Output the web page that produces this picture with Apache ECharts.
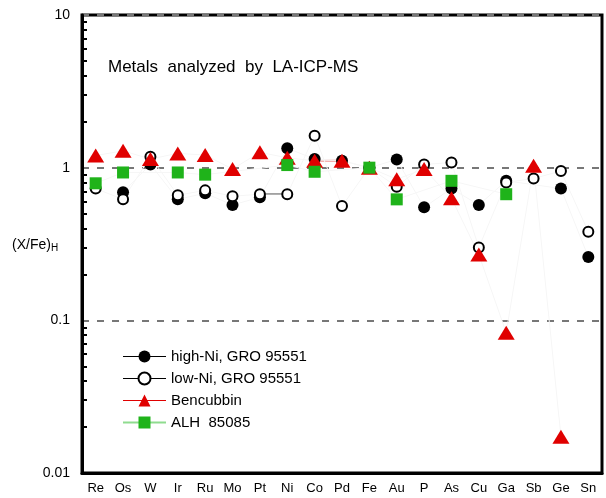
<!DOCTYPE html>
<html>
<head>
<meta charset="utf-8">
<script src="https://cdn.jsdelivr.net/npm/echarts@6/dist/echarts.min.js"></script>
<style>
  html, body { margin: 0; padding: 0; background: #fff; }
  #chart { width: 606px; height: 498px; }
</style>
</head>
<body>
<div id="chart"></div>
<script>
// elements, in the order of the x axis
let elements = ["Re", "Os", "W", "Ir", "Ru", "Mo", "Pt", "Ni", "Co", "Pd", "Fe", "Au", "P", "As", "Cu", "Ga", "Sb", "Ge", "Sn"];

// (X/Fe)H values
let highNi =    [null, 0.69, 1.05, 0.62, 0.68, 0.57, 0.64, 1.34, 1.14, 1.11, 1.0, 1.13, 0.55, 0.73, 0.57, 0.82, null, 0.73, 0.26];
let lowNi =     [0.73, 0.62, 1.18, 0.66, 0.71, 0.65, 0.67, 0.67, 1.62, 0.56, 1.0, 0.75, 1.05, 1.08, 0.30, 0.80, 0.85, 0.95, 0.38];
let bencubbin = [1.20, 1.29, 1.14, 1.24, 1.21, 0.98, 1.26, 1.16, 1.11, 1.11, 1.0, 0.84, 0.98, 0.63, 0.27, 0.083, 1.03, 0.0173, null];
let alh85085 =  [0.79, 0.93, null, 0.93, 0.90, null, null, 1.04, 0.94, null, 1.0, 0.62, null, 0.82, null, 0.67, null, null, null];

// the two segments that are drawn solid in the original
let lowNiLink =     [null, null, null, null, null, null, 0.67, 0.67, null, null, null, null, null, null, null, null, null, null, null];
let bencubbinLink = [null, null, null, null, null, null, null, null, 1.11, 1.11, null, null, null, null, null, null, null, null, null];

let yTicks = [0.01, 0.1, 1, 10];

// minor ticks 2..9 in every decade, in log10 space
let minorTicks = [];
[-2, -1, 0].forEach(function (d) {
  for (let k = 2; k <= 9; k++) minorTicks.push(d + Math.log10(k));
});

const RED = "#e00000";
const GREEN = "#1fb31a";
const FONT = "Liberation Sans";
const faint = { color: "#f6f6f6", width: 1 };

let dom = echarts.init(document.getElementById("chart"));
dom.setOption({
  animation: false,
  textStyle: { fontFamily: FONT, color: "#000" },
  title: [
    {
      text: "Metals  analyzed  by  LA-ICP-MS",
      left: 103,
      top: 54,
      textStyle: { fontFamily: FONT, fontSize: 17, fontWeight: "normal", color: "#000" }
    },
    {
      text: "(X/Fe){s|H}",
      left: 7,
      top: 232,
      textStyle: {
        fontFamily: FONT, fontSize: 14, fontWeight: "normal", color: "#000",
        rich: { s: { fontFamily: FONT, fontSize: 10, verticalAlign: "bottom", padding: [6, 0, 0, 0] } }
      }
    }
  ],
  legend: {
    orient: "vertical",
    left: 117,
    top: 344,
    itemWidth: 43,
    itemHeight: 15,
    itemGap: 7,
    textStyle: { fontFamily: FONT, fontSize: 15, color: "#000" },
    data: [
      { name: "high-Ni, GRO 95551", lineStyle: { color: "#000", width: 1 } },
      { name: "low-Ni, GRO 95551", lineStyle: { color: "#000", width: 1 } },
      { name: "Bencubbin", lineStyle: { color: RED, width: 1 } },
      { name: "ALH  85085", lineStyle: { color: "#8fdc8f", width: 2 } }
    ]
  },
  grid: {
    left: 82, right: 4, top: 15, bottom: 25,
    show: true, borderColor: "#000", borderWidth: 3
  },
  xAxis: {
    type: "category",
    data: elements,
    boundaryGap: true,
    axisLine: { onZero: false, lineStyle: { color: "#000", width: 3 } },
    axisTick: { inside: true, length: 6, lineStyle: { color: "#000", width: 2 } },
    axisLabel: { fontFamily: FONT, fontSize: 13, color: "#000", margin: 9, interval: 0 },
    splitLine: { show: false }
  },
  yAxis: [
    {
      type: "log",
      logBase: 10,
      min: 0.01,
      max: 10,
      axisLine: { show: true, lineStyle: { color: "#000", width: 3 } },
      axisTick: { length: 8, lineStyle: { color: "#000", width: 2 } },
      axisLabel: {
        fontFamily: FONT, fontSize: 14, color: "#000", margin: 12,
        formatter: function (v) {
          for (let t of yTicks) if (Math.abs(v - t) / t < 1e-6) return String(t);
          return "";
        }
      },
      splitLine: { show: true, lineStyle: { color: "#777777", width: 2, type: [7, 8] } }
    },
    {
      type: "value",
      min: -2,
      max: 1,
      position: "left",
      axisLine: { show: false },
      axisLabel: { show: false },
      splitLine: { show: false },
      axisTick: {
        show: true, inside: true, length: 5,
        customValues: minorTicks,
        lineStyle: { color: "#000", width: 2 }
      }
    }
  ],
  series: [
    {
      name: "high-Ni, GRO 95551",
      type: "line",
      data: highNi,
      connectNulls: true,
      symbol: "circle",
      symbolSize: 12,
      itemStyle: { color: "#000" },
      lineStyle: faint
    },
    {
      name: "low-Ni, GRO 95551",
      type: "line",
      data: lowNi,
      connectNulls: true,
      symbol: "emptyCircle",
      symbolSize: 10,
      itemStyle: { color: "#000", borderWidth: 2.5 },
      lineStyle: faint
    },
    {
      name: "Bencubbin",
      type: "line",
      data: bencubbin,
      connectNulls: true,
      symbol: "triangle",
      symbolSize: [17, 14],
      itemStyle: { color: RED },
      lineStyle: faint
    },
    {
      name: "ALH  85085",
      type: "line",
      data: alh85085,
      connectNulls: true,
      symbol: "rect",
      symbolSize: 12,
      itemStyle: { color: GREEN },
      lineStyle: faint
    },
    {
      type: "line",
      data: lowNiLink,
      symbol: "none",
      z: 1,
      lineStyle: { color: "#000", width: 1.5 }
    },
    {
      type: "line",
      data: bencubbinLink,
      symbol: "none",
      z: 1,
      lineStyle: { color: "#ee7777", width: 2 }
    }
  ]
});
dom.resize();
</script>
</body>
</html>
